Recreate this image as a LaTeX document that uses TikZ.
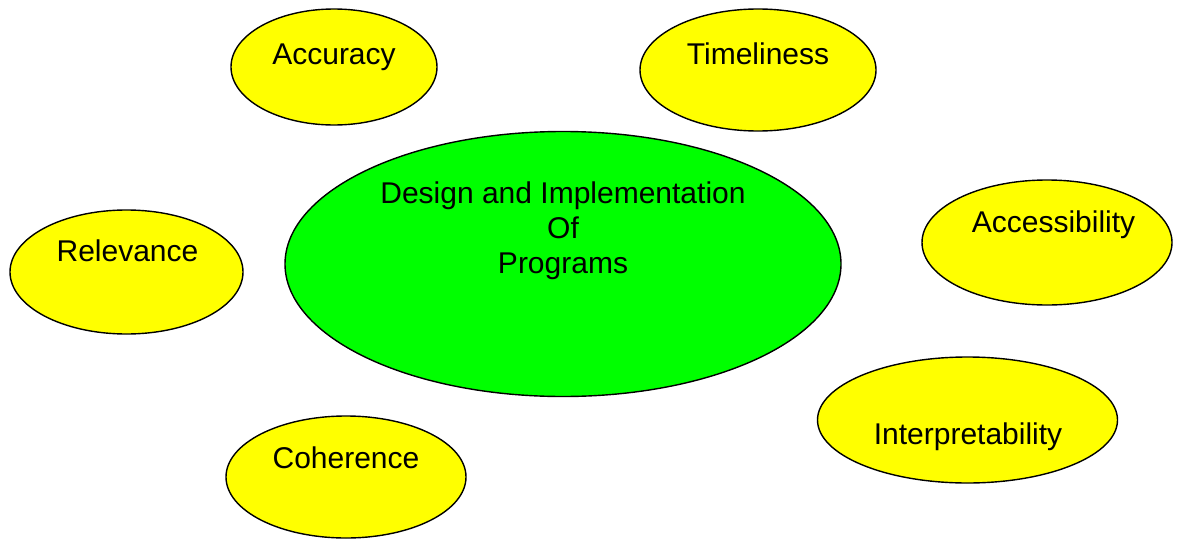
\documentclass[tikz,border=0pt]{standalone}
\usepackage{fontspec}
\setmainfont{Liberation Sans}
\usetikzlibrary{shapes.geometric}
\definecolor{ovalyellow}{HTML}{FFFF00}
\definecolor{ovalgreen}{HTML}{00FF00}
\begin{document}
\begin{tikzpicture}[x=1pt,y=-1pt,
  oval/.style={ellipse,draw=black,line width=1.4pt,inner sep=0pt},
  sat/.style={oval,fill=ovalyellow},
  core/.style={oval,fill=ovalgreen},
  lbl/.style={anchor=base,inner sep=0pt,font=\fontsize{30}{35}\selectfont,text=black,align=center}]
\useasboundingbox (0,0) rectangle (1180,538);
\fill[white] (0,0) rectangle (1180,538);
% ovals
\node[sat, minimum width=206pt, minimum height=116pt] (acc) at (334,67) {};
\node[sat, minimum width=236pt, minimum height=122pt] (tim) at (758,70) {};
\node[core, minimum width=556pt, minimum height=265pt] (core) at (563,264) {};
\node[sat, minimum width=233pt, minimum height=124pt] (rel) at (126.5,272) {};
\node[sat, minimum width=250pt, minimum height=125pt] (acs) at (1047,242.5) {};
\node[sat, minimum width=300pt, minimum height=126pt] (int) at (967.5,420) {};
\node[sat, minimum width=240pt, minimum height=122pt] (coh) at (346,477) {};
% labels
\node[lbl] (tacc) at (334,64) {Accuracy};
\node[lbl] (ttim) at (758,64) {Timeliness};
\node[lbl] (trel) at (127.5,261.5) {Relevance};
\node[lbl] (tacs) at (1053.5,232) {Accessibility};
\node[lbl] (tint) at (968,444) {Interpretability};
\node[lbl] (tcoh) at (346,468) {Coherence};
\node[lbl] (tc1) at (563,203.5) {Design and Implementation};
\node[lbl] (tc2) at (563,238.5) {Of};
\node[lbl] (tc3) at (563,273.5) {Programs};
\end{tikzpicture}
\end{document}
